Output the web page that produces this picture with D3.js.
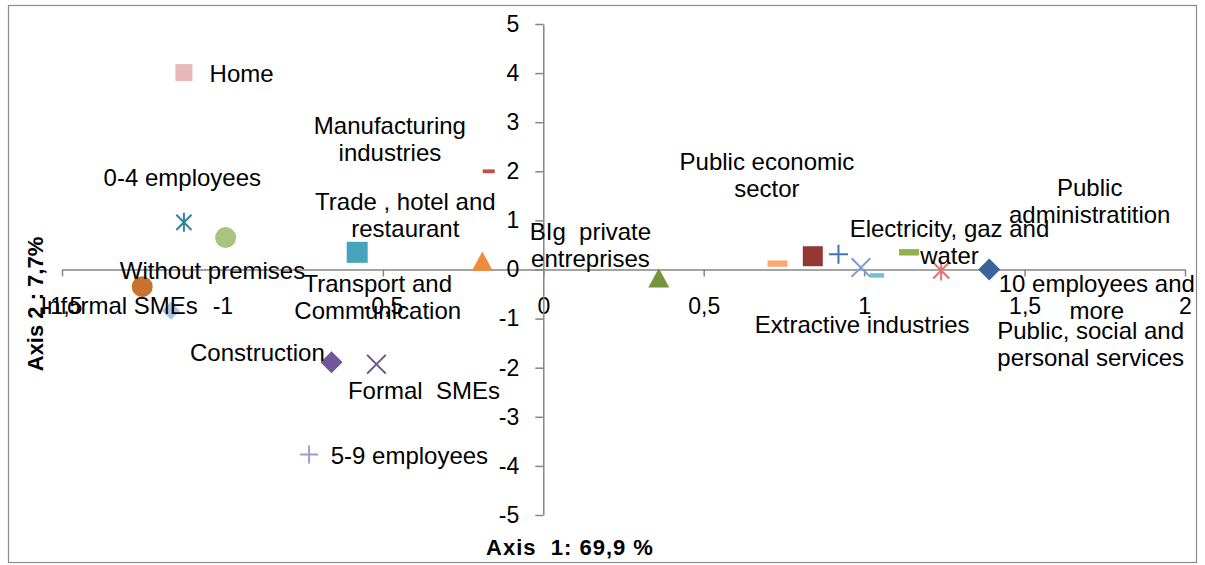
<!DOCTYPE html>
<html><head><meta charset="utf-8">
<script src="https://cdn.jsdelivr.net/npm/d3@7"></script>
<style>body{margin:0;background:#fff} svg{display:block} text{white-space:pre}</style>
</head><body>
<svg id="chart" width="1205" height="565"></svg>
<script>
// ---------- DATA ----------
const pointNames = [
  "Home","Manufacturing industries","0-4 employees","Without premises","Orange circle","Informal SMEs",
  "Trade , hotel and restaurant","Transport and Communication","BIg private entreprises","Light orange dash",
  "Public economic sector","Blue plus","Light blue cross","Light blue dash","Electricity, gaz and water",
  "Pink star","10 employees and more","Construction","Formal SMEs","5-9 employees"
];
const axis1Values = [-1.12,-0.17,-1.12,-0.99,-1.25,-1.16,-0.58,-0.19,0.36,0.73,0.84,0.92,0.99,1.04,1.14,1.24,1.39,-0.66,-0.52,-0.73];
const axis2Values = [4.01,2.00,0.96,0.65,-0.35,-0.84,0.35,0.16,-0.18,0.12,0.27,0.31,0.04,-0.12,0.35,-0.02,0.00,-1.89,-1.93,-3.77];

const xTickValues = [-1.5,-1,-0.5,0,0.5,1,1.5,2];
const xTickLabels = ["-1,5","-1","-0,5","0","0,5","1","1,5","2"];
const yTickValues = [-5,-4,-3,-2,-1,0,1,2,3,4,5];
const yTickLabels = ["-5","-4","-3","-2","-1","0","1","2","3","4","5"];

const labelTexts = [
  ["Home"],["Manufacturing","industries"],["0-4 employees"],["Without premises"],["Informal SMEs"],
  ["Trade , hotel and","restaurant"],["Transport and","Communication"],["BIg  private","entreprises"],
  ["Public economic","sector"],["Electricity, gaz and","water"],["Public","administratition"],
  ["10 employees and","more"],["Extractive industries"],["Public, social and","personal services"],
  ["Construction"],["Formal  SMEs"],["5-9 employees"]
];
// label anchor positions, in axis units (layout)
const labelAxis1 = [-1.04,-0.478,-1.125,-1.031,-1.322,-0.43,-0.516,0.147,0.697,1.266,1.703,1.725,0.994,1.706,-0.891,-0.372,-0.6625];
const labelAxis2 = [4.01,2.953,1.894,-0.02,-0.713,1.405,-0.265,0.774,2.2,0.855,1.69,-0.285,-1.12,-1.242,-1.69,-2.444,-3.77];
const labelAnchor = ["start","middle","middle","middle","middle","middle","middle","middle","middle","middle","middle","middle","middle","middle","middle","middle","start"];

// ---------- STYLES ----------
const markerKind = ["square","dash","star","circle","circle","diamond","square","triangle","triangle","dash",
  "square","plus","cross","dash","dash","star","diamond","diamond","cross","plus"];
const markerColor = ["#E6B9B8","#C0504D","#31849B","#A9C47F","#C7722F","#AFC3E0","#46A3BB","#EE8C3C","#77933C","#FAA772",
  "#943634","#4672B6","#7D9BD0","#77BDD6","#92B04E","#DD7472","#3A639C","#70569A","#6A5590","#A898C9"];
const markerSize = [17,12,19,21,21,18,21,21,21,20,20,19,22,14,20,20,22,22,22,18];

// ---------- CHART ----------
const svg = d3.select("#chart");
const x = d3.scaleLinear().domain([-1.5,2]).range([62,1185]);
const y = d3.scaleLinear().domain([-5,5]).range([515,24]);
const FONT = "'Liberation Sans', Arial, sans-serif";
const axisColor = "#868686";

svg.append("rect").attr("x",8.5).attr("y",5.5).attr("width",1188).attr("height",557)
  .attr("fill","#fff").attr("stroke","#8c8c8c").attr("stroke-width",1.2);

// X axis
const gx = svg.append("g").attr("transform",`translate(0,${y(0)})`)
  .call(d3.axisBottom(x).tickValues(xTickValues).tickSize(7).tickSizeOuter(0)
    .tickFormat((d,i)=>xTickLabels[i]));
gx.select(".domain").attr("stroke",axisColor).attr("stroke-width",1.5);
gx.selectAll(".tick line").attr("stroke",axisColor).attr("stroke-width",1.5);
gx.selectAll(".tick text").attr("y",36).attr("dy","0.35em")
  .style("font-family",FONT).style("font-size","23px").attr("fill","#000");

// Y axis
const gy = svg.append("g").attr("transform",`translate(${x(0)},0)`)
  .call(d3.axisLeft(y).tickValues(yTickValues).tickSize(8).tickSizeOuter(0).tickPadding(16)
    .tickFormat((d,i)=>yTickLabels[i]));
gy.select(".domain").attr("stroke",axisColor).attr("stroke-width",1.5);
gy.selectAll(".tick line").attr("stroke",axisColor).attr("stroke-width",1.5);
gy.selectAll(".tick text").style("font-family",FONT).style("font-size","23px").attr("fill","#000");

// Axis titles
svg.append("text").attr("x",570).attr("y",547).attr("text-anchor","middle").attr("dominant-baseline","central")
  .style("font-family",FONT).style("font-weight","bold").style("font-size","22px").style("letter-spacing","1px")
  .text("Axis  1: 69,9 %");
svg.append("text").attr("transform","translate(35,304) rotate(-90)").attr("text-anchor","middle")
  .attr("dominant-baseline","central")
  .style("font-family",FONT).style("font-weight","bold").style("font-size","22px").text("Axis 2 : 7,7%");

// markers
function markerPath(kind, s){
  const p = d3.path(), h = s/2;
  if(kind==="square"){ p.rect(-h,-h,s,s); }
  else if(kind==="circle"){ p.arc(0,0,h,0,2*Math.PI); }
  else if(kind==="triangle"){ const t = s*0.866; p.moveTo(0,-t/2-1); p.lineTo(h,t/2); p.lineTo(-h,t/2); p.closePath(); }
  else if(kind==="diamond"){ p.moveTo(0,-h); p.lineTo(h,0); p.lineTo(0,h); p.lineTo(-h,0); p.closePath(); }
  else if(kind==="dash"){ p.rect(-h,-s*0.16,s,s*0.32); }
  else if(kind==="plus"){ p.moveTo(-h,0); p.lineTo(h,0); p.moveTo(0,-h); p.lineTo(0,h); }
  else if(kind==="cross"){ const k=h*0.85; p.moveTo(-k,-k); p.lineTo(k,k); p.moveTo(k,-k); p.lineTo(-k,k); }
  else if(kind==="star"){ const k=h*0.8; p.moveTo(-k,-k); p.lineTo(k,k); p.moveTo(k,-k); p.lineTo(-k,k); p.moveTo(0,-h); p.lineTo(0,h); }
  return p.toString();
}
const filled = k => ["square","circle","triangle","diamond","dash"].includes(k);

svg.append("g").selectAll("path").data(pointNames.map((n,i)=>i)).join("path")
  .attr("transform",i=>`translate(${x(axis1Values[i])},${y(axis2Values[i])})`)
  .attr("d",i=>markerPath(markerKind[i],markerSize[i]))
  .attr("fill",i=>filled(markerKind[i])?markerColor[i]:"none")
  .attr("stroke",i=>filled(markerKind[i])?"none":markerColor[i])
  .attr("stroke-width",2);

// labels
const lg = svg.append("g").style("font-family",FONT).style("font-size","24px").attr("fill","#000");
labelTexts.forEach((lines,i)=>{
  const t = lg.append("text").attr("x",x(labelAxis1[i])).attr("y",y(labelAxis2[i]))
    .attr("text-anchor",labelAnchor[i]).attr("dominant-baseline","central");
  lines.forEach((ln,j)=>{
    t.append("tspan").attr("x",x(labelAxis1[i])).attr("dy", j===0? 0 : 27).text(ln);
  });
});
</script>
</body></html>
